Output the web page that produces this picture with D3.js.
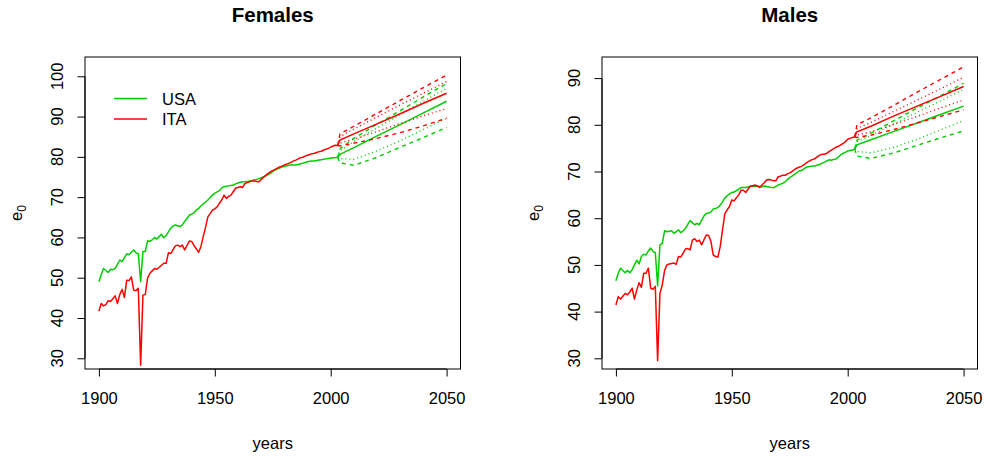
<!DOCTYPE html>
<html><head><meta charset="utf-8">
<script src="https://cdn.jsdelivr.net/npm/d3@7"></script>
<style>
body{margin:0;background:#fff}
svg{display:block}
text{font-family:"Liberation Sans",Arial,Helvetica,sans-serif;fill:#000}
</style>
</head><body>
<svg id="chart" width="986" height="457"></svg>
<script>
// ---------- DATA ----------
const firstYear = 1900, lastObsYear = 2003;
const histYears = d3.range(firstYear, lastObsYear + 1);

const usaFemale = [49.0,50.8,52.3,51.8,51.3,52.1,52.0,52.3,53.3,54.4,54.0,55.0,55.9,55.7,56.3,56.9,56.2,55.9,49.0,56.5,
  56.5,59.2,59.0,59.4,60.0,59.6,60.2,60.8,59.9,60.5,61.4,62.3,62.8,63.1,62.9,62.7,63.1,64.0,64.7,65.5,
  65.8,66.1,66.8,67.2,67.8,68.3,68.8,69.3,69.9,70.5,71.0,71.3,71.6,72.3,72.6,72.7,72.8,72.9,73.0,73.3,
  73.5,73.7,73.8,73.8,73.9,74.0,74.1,74.3,74.4,74.6,74.8,75.1,75.3,75.6,75.9,76.4,76.7,77.0,77.2,77.5,
  77.6,77.8,77.9,78.0,78.0,78.0,78.1,78.3,78.4,78.6,78.8,78.9,79.0,79.0,79.1,79.2,79.3,79.4,79.5,79.6,
  79.7,79.8,79.8,79.9];
const itaFemale = [41.7,43.6,43.0,43.3,44.3,44.1,44.8,45.5,43.6,45.8,47.1,45.1,49.4,49.3,50.2,46.9,46.8,47.4,28.3,45.7,
  45.8,49.9,51.1,51.7,52.3,52.1,52.6,53.1,53.6,53.6,56.2,56.0,57.0,57.9,58.1,57.7,58.1,56.9,58.0,59.1,
  59.0,58.0,57.2,56.3,57.7,60.2,62.5,65.1,65.9,66.8,67.1,67.6,68.5,69.3,70.5,69.7,70.2,70.5,71.4,72.2,
  72.4,72.6,72.4,73.4,73.6,73.8,74.0,74.0,73.9,73.8,74.4,74.9,75.4,75.9,76.3,76.6,76.9,77.2,77.5,77.7,
  78.0,78.2,78.4,78.7,79.0,79.2,79.5,79.8,79.9,80.2,80.4,80.6,80.8,80.9,81.1,81.3,81.4,81.7,81.9,82.1,
  82.4,82.7,82.9,82.8];
const usaMale = [46.6,48.2,49.3,48.8,48.3,48.8,48.3,49.0,50.0,51.0,50.2,51.8,52.3,52.1,53.0,53.6,52.9,52.6,45.5,54.3,
  54.6,57.3,57.1,57.2,57.3,56.8,57.1,57.5,56.9,57.3,57.8,58.7,59.5,59.0,58.6,58.9,58.6,59.6,60.5,61.0,
  61.1,61.3,62.0,62.1,62.3,62.8,63.5,64.3,64.8,65.2,65.5,65.6,65.9,66.2,66.6,66.6,66.6,66.7,66.8,66.9,
  66.8,66.9,66.8,66.7,66.9,66.8,66.7,66.6,66.5,66.8,67.1,67.3,67.5,67.8,68.3,68.7,69.0,69.4,69.7,70.1,
  70.2,70.5,70.9,71.0,71.1,71.2,71.2,71.4,71.5,71.8,72.0,72.3,72.5,72.4,72.6,72.7,73.1,73.6,73.9,74.1,
  74.4,74.5,74.6,74.8];
const itaMale = [41.4,43.2,42.7,43.3,43.9,43.6,44.2,45.0,42.7,44.6,46.2,45.2,48.2,48.2,49.3,45.0,44.8,45.4,29.5,43.9,
  45.7,48.8,50.0,50.2,50.3,50.4,50.1,51.8,51.7,52.5,53.4,53.5,53.2,55.3,55.6,55.0,55.3,54.3,55.4,56.4,
  56.3,55.0,52.1,51.8,51.7,53.9,57.5,61.0,61.8,62.5,63.9,63.7,64.4,65.0,66.0,66.0,65.5,66.2,66.9,66.9,
  67.1,66.9,66.6,67.1,67.6,68.2,68.3,68.2,68.0,68.0,68.9,69.0,69.2,69.2,69.5,69.7,70.0,70.4,70.7,70.9,
  71.1,71.4,71.8,72.1,72.4,72.6,72.8,73.2,73.5,73.7,73.7,73.9,74.3,74.6,74.9,75.2,75.4,75.7,76.0,76.4,
  76.9,77.1,77.3,77.4];

// projections (jump-off year, then forecast years)
const projYears = [2003, 2004, 2010, 2020, 2030, 2040, 2050];
const itaFemaleMed  = [82.8, 84.2, 85.7, 88.2, 90.7, 93.3, 95.8];
const itaFemaleLo80 = [82.8, 83.4, 84.4, 86.3, 88.3, 90.2, 92.0];
const itaFemaleHi80 = [82.8, 85.0, 86.9, 89.9, 92.9, 95.8, 98.7];
const itaFemaleLo95 = [82.8, 82.7, 83.4, 84.6, 86.0, 87.7, 89.6];
const itaFemaleHi95 = [82.8, 85.7, 87.6, 90.8, 94.0, 97.2, 100.3];
const usaFemaleMed  = [79.9, 80.6, 82.3, 85.2, 88.0, 90.9, 93.8];
const usaFemaleLo80 = [79.9, 79.6, 79.4, 81.5, 84.0, 86.8, 89.6];
const usaFemaleHi80 = [79.9, 81.5, 83.8, 87.2, 90.5, 93.8, 97.0];
const usaFemaleLo95 = [79.9, 78.5, 77.9, 79.9, 82.4, 84.8, 87.3];
const usaFemaleHi95 = [79.9, 82.0, 84.6, 88.1, 91.5, 94.9, 98.2];
const itaMaleMed  = [77.4, 78.5, 79.7, 81.9, 84.0, 86.1, 88.2];
const itaMaleLo80 = [77.4, 77.8, 78.5, 80.1, 81.8, 83.6, 85.3];
const itaMaleHi80 = [77.4, 79.2, 80.5, 82.9, 85.3, 87.7, 90.2];
const itaMaleLo95 = [77.4, 77.3, 77.8, 79.0, 80.4, 81.8, 83.2];
const itaMaleHi95 = [77.4, 80.0, 81.5, 84.2, 87.0, 89.7, 92.4];
const usaMaleMed  = [74.8, 75.7, 76.8, 78.6, 80.4, 82.2, 84.0];
const usaMaleLo80 = [74.8, 74.3, 74.0, 75.2, 76.9, 78.9, 80.9];
const usaMaleHi80 = [74.8, 76.4, 77.7, 80.2, 82.7, 85.1, 87.6];
const usaMaleLo95 = [74.8, 73.3, 72.8, 74.0, 75.6, 77.2, 78.7];
const usaMaleHi95 = [74.8, 76.7, 78.2, 80.9, 83.6, 86.2, 88.9];

const xTicks = [1900, 1950, 2000, 2050];
const yTicksFemale = [30, 40, 50, 60, 70, 80, 90, 100];
const yTicksMale = [30, 40, 50, 60, 70, 80, 90];
const titles = ["Females", "Males"];
const countries = ["USA", "ITA"];
const colors = {USA: "#00cd00", ITA: "#ff0000"};

// ---------- DRAW ----------
const svg = d3.select("#chart");
svg.append("rect").attr("width", 986).attr("height", 457).attr("fill", "#fff");

const panels = [
  {title: titles[0], left: 85, right: 460.5, yDom: [27.34, 104.79], yTicks: yTicksFemale,
   hist: {USA: usaFemale, ITA: itaFemale},
   proj: {USA: [usaFemaleMed, usaFemaleLo80, usaFemaleHi80, usaFemaleLo95, usaFemaleHi95],
          ITA: [itaFemaleMed, itaFemaleLo80, itaFemaleHi80, itaFemaleLo95, itaFemaleHi95]}, legend: true},
  {title: titles[1], left: 602, right: 977.5, yDom: [27.71, 94.52], yTicks: yTicksMale,
   hist: {USA: usaMale, ITA: itaMale},
   proj: {USA: [usaMaleMed, usaMaleLo80, usaMaleHi80, usaMaleLo95, usaMaleHi95],
          ITA: [itaMaleMed, itaMaleLo80, itaMaleHi80, itaMaleLo95, itaMaleHi95]}, legend: false}
];
const plotTop = 57, plotBottom = 369;
const fs = 16.5;
const styles = [null, "1,3", "1,3", "4,4", "4,4"];

panels.forEach(p => {
  const x = d3.scaleLinear().domain([1894, 2056]).range([p.left, p.right]);
  const y = d3.scaleLinear().domain(p.yDom).range([plotBottom, plotTop]);
  const g = svg.append("g");

  const line = d3.line().x(d => x(d[0])).y(d => y(d[1]));

  // projections
  ["USA", "ITA"].forEach(c => {
    p.proj[c].forEach((arr, i) => {
      g.append("path").datum(projYears.map((yr, k) => [yr, arr[k]]))
        .attr("d", line).attr("fill", "none").attr("stroke", colors[c])
        .attr("stroke-width", i === 0 ? 1.5 : 1.4)
        .attr("stroke-dasharray", styles[i]);
    });
  });
  // history
  ["USA", "ITA"].forEach(c => {
    g.append("path").datum(histYears.map((yr, k) => [yr, p.hist[c][k]]))
      .attr("d", line).attr("fill", "none").attr("stroke", colors[c])
      .attr("stroke-width", 1.5).attr("stroke-linejoin", "round");
  });

  // box
  g.append("rect").attr("x", p.left).attr("y", plotTop)
    .attr("width", p.right - p.left).attr("height", plotBottom - plotTop)
    .attr("fill", "none").attr("stroke", "#000").attr("stroke-width", 1);

  // x axis
  const xa = g.append("g").attr("transform", `translate(0,${plotBottom})`)
    .call(d3.axisBottom(x).tickValues(xTicks).tickFormat(d3.format("d")).tickSize(7.5).tickPadding(16));
  xa.select(".domain").attr("d", `M${x(xTicks[0])},0H${x(xTicks[xTicks.length-1])}`);
  xa.selectAll("text").style("font-size", fs + "px").style("font-family", "Liberation Sans, Arial, sans-serif");

  // y axis
  const ya = g.append("g").attr("transform", `translate(${p.left},0)`)
    .call(d3.axisLeft(y).tickValues(p.yTicks).tickSize(7.5));
  ya.select(".domain").attr("d", `M0,${y(p.yTicks[0])}V${y(p.yTicks[p.yTicks.length-1])}`);
  ya.selectAll("text").remove();
  p.yTicks.forEach(t => {
    g.append("text").attr("transform", `translate(${p.left - 22},${y(t)}) rotate(-90)`)
      .attr("text-anchor", "middle").style("font-size", fs + "px").text(t);
  });
  g.selectAll(".tick line").attr("stroke", "#000");

  const cx = (p.left + p.right) / 2;
  // title
  g.append("text").attr("x", cx).attr("y", 22).attr("text-anchor", "middle")
    .style("font-size", "20.5px").style("font-weight", "bold").text(p.title);
  // x label
  g.append("text").attr("x", cx).attr("y", 449).attr("text-anchor", "middle")
    .style("font-size", fs + "px").text("years");
  // y label e0
  const yl = g.append("text").attr("transform", `translate(${p.left - 63},${(plotTop + plotBottom) / 2}) rotate(-90)`)
    .attr("text-anchor", "middle").style("font-size", fs + "px");
  yl.append("tspan").text("e");
  yl.append("tspan").attr("dy", 4).style("font-size", "12px").text("0");

  if (p.legend) {
    countries.forEach((c, i) => {
      const ly = 98.5 + i * 20.5;
      g.append("line").attr("x1", 114).attr("x2", 147).attr("y1", ly).attr("y2", ly)
        .attr("stroke", colors[c]).attr("stroke-width", 1.5);
      g.append("text").attr("x", 162).attr("y", ly + 6).style("font-size", fs + "px").text(c);
    });
  }
});
</script>
</body></html>
